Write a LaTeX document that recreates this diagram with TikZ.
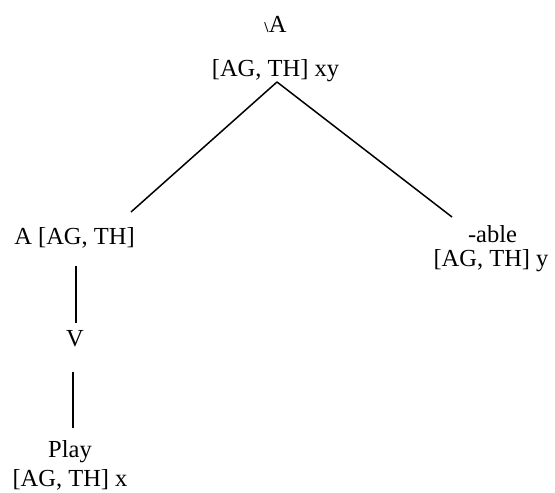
\documentclass[tikz,border=0pt]{standalone}
\usepackage{fontspec}
\setmainfont{Liberation Serif}
\begin{document}
\begin{tikzpicture}[x=1pt,y=1pt,
  lbl/.style={anchor=base,inner sep=0pt,font=\fontsize{24.5}{28}\selectfont},
  edge/.style={line width=1.5pt}]
\useasboundingbox (0,0) rectangle (555,493);
\node[lbl] (topA) at (275.5,460) {{\fontsize{15}{15}\selectfont\textbf{\textbackslash}}A};
\node[lbl] (topF) at (275.5,416) {[AG, TH] xy};
\node[lbl] (leftA) at (74.5,248) {A [AG, TH]};
\node[lbl] (able) at (492.5,250) {-able};
\node[lbl] (ableF) at (491,226) {[AG, TH] y};
\node[lbl] (V) at (75,146) {V};
\node[lbl] (play) at (70,35) {Play};
\node[lbl] (playF) at (70,6) {[AG, TH] x};
\coordinate (apex) at (277,411);
\coordinate (lend) at (131,281);
\coordinate (rend) at (452,276);
\coordinate (v1t) at (76,227);
\coordinate (v1b) at (76,170);
\coordinate (v2t) at (73,121);
\coordinate (v2b) at (73,65);
\draw[edge] (apex) -- (lend);
\draw[edge] (apex) -- (rend);
\draw[edge] (v1t) -- (v1b);
\draw[edge] (v2t) -- (v2b);
\end{tikzpicture}
\end{document}
